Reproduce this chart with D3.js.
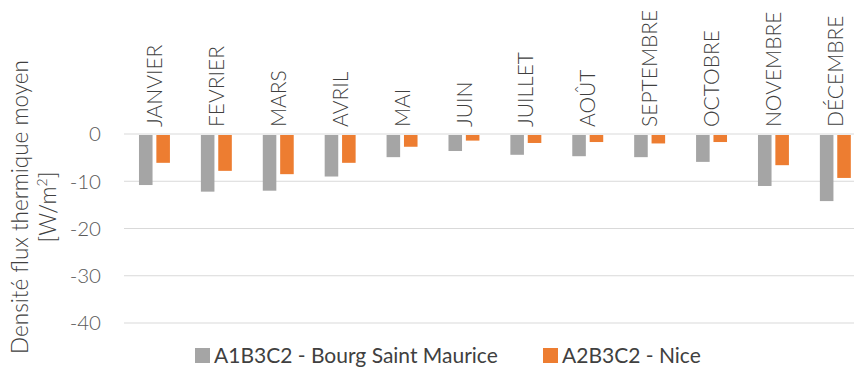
<!DOCTYPE html>
<html>
<head>
<meta charset="utf-8">
<script src="https://cdn.jsdelivr.net/npm/d3@7"></script>
<style>
  html, body { margin: 0; padding: 0; background: #fff; }
  svg { display: block; font-family: Lato, "Open Sans", sans-serif; font-weight: 300; }
</style>
</head>
<body>
<svg id="chart" width="854" height="367"></svg>
<script>
// Monthly mean heat flux density [W/m²]
const months = ["JANVIER", "FEVRIER", "MARS", "AVRIL", "MAI", "JUIN", "JUILLET", "AOÛT", "SEPTEMBRE", "OCTOBRE", "NOVEMBRE", "DÉCEMBRE"];
const seriesNames = ["A1B3C2 - Bourg Saint Maurice", "A2B3C2 - Nice"];
const bourgValues = [-10.8, -12.2, -12.0, -9.0, -4.9, -3.6, -4.4, -4.7, -4.9, -5.9, -11.0, -14.2];
const niceValues = [-6.1, -7.8, -8.5, -6.1, -2.7, -1.4, -1.9, -1.7, -2.0, -1.7, -6.6, -9.3];
const yTicks = [0, -10, -20, -30, -40];
const colors = ["#A5A5A5", "#ED7D31"];

const svg = d3.select("#chart");

const y = d3.scaleLinear().domain([-40, 0]).range([323, 134]);
const x0 = d3.scaleBand().domain(months).range([123.5, 866.3]).paddingInner(0.5).paddingOuter(0.25);
const x1 = d3.scaleBand().domain(seriesNames).range([0, x0.bandwidth()]).paddingInner(0.22);

// Gridlines
svg.append("g")
  .selectAll("line")
  .data(yTicks)
  .join("line")
  .attr("x1", 124).attr("x2", 854)
  .attr("y1", d => y(d)).attr("y2", d => y(d))
  .attr("stroke", "#D9D9D9").attr("stroke-width", 1.2);

// Y tick labels
svg.append("g")
  .selectAll("text")
  .data(yTicks)
  .join("text")
  .attr("x", 101)
  .attr("y", d => y(d))
  .attr("dy", "0.36em")
  .attr("text-anchor", "end")
  .attr("font-size", 20.5)
  .attr("fill", "#595959")
  .text(d => String(d));

// Bars
const rows = months.map((m, i) => ({ month: m, vals: [bourgValues[i], niceValues[i]] }));
const groups = svg.append("g")
  .selectAll("g")
  .data(rows)
  .join("g")
  .attr("transform", d => `translate(${x0(d.month)},0)`);

groups.selectAll("rect")
  .data(d => d.vals.map((v, k) => ({ name: seriesNames[k], v, k })))
  .join("rect")
  .attr("x", d => x1(d.name))
  .attr("width", x1.bandwidth())
  .attr("y", d => y(0) + 1)
  .attr("height", d => y(d.v) - y(0) - 1)
  .attr("fill", d => colors[d.k]);

// Month labels, rotated above the zero line
svg.append("g")
  .selectAll("text")
  .data(months)
  .join("text")
  .attr("transform", d => `translate(${x0(d) + x0.bandwidth() / 2},127) rotate(-90)`)
  .attr("dy", "0.36em")
  .attr("text-anchor", "start")
  .attr("font-size", 21)
  .attr("fill", "#404040")
  .text(d => d);

// Y axis title
const yt = svg.append("text")
  .attr("transform", "translate(0,207) rotate(-90)")
  .attr("text-anchor", "middle")
  .attr("font-size", 22.5)
  .attr("fill", "#404040");
yt.append("tspan").attr("x", 0).attr("y", 28).text("Densité flux thermique moyen");
const l2 = yt.append("tspan").attr("x", 0).attr("y", 56);
l2.append("tspan").text("[W/m");
l2.append("tspan").attr("font-size", 14).attr("dy", -9).text("2");
l2.append("tspan").attr("dy", 9).text("]");

// Legend
const legend = svg.append("g");
const legendItems = [{ x: 195, name: seriesNames[0], c: colors[0] }, { x: 543, name: seriesNames[1], c: colors[1] }];
legendItems.forEach(it => {
  legend.append("rect").attr("x", it.x).attr("y", 348).attr("width", 15).attr("height", 15).attr("fill", it.c);
  legend.append("text").attr("x", it.x + 19).attr("y", 363)
    .attr("font-size", 21).attr("font-weight", 400).attr("fill", "#404040").text(it.name);
});
</script>
</body>
</html>
